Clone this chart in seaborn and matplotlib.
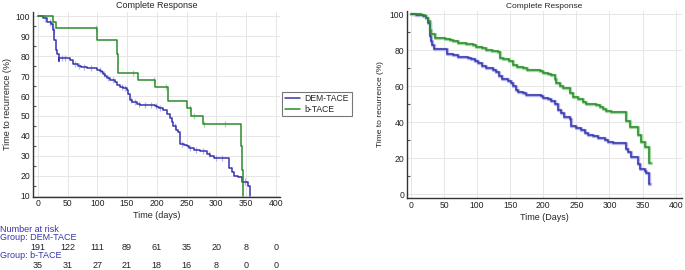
import numpy as np
import pandas as pd
import seaborn as sns
import matplotlib.pyplot as plt
from matplotlib.ticker import MultipleLocator
import matplotlib.transforms as mtransforms

# Left panel: Kaplan-Meier steps (time in days, survival % after the step)
dem_t = [0, 9, 15, 23, 26, 28, 30, 32, 35, 36, 54, 60, 68, 72, 82, 99, 105, 108, 110, 113,
         116, 122, 130, 133, 138, 144, 150, 152, 155, 158, 166, 172, 197, 200, 203, 211,
         217, 222, 225, 228, 233, 236, 239, 245, 250, 254, 262, 273, 284, 290, 296, 318,
         321, 326, 329, 337, 343, 351, 354, 356, 357]
dem_s = [100, 99, 97, 96, 93, 88, 83, 81, 77.5, 79, 78, 76, 75, 74.5, 74, 73, 72.5, 72, 71, 70,
         69, 68, 67, 65.5, 64.5, 64, 63, 61, 58, 57, 56, 55.5, 55, 54.5, 54, 53,
         51, 49, 47, 45, 43, 42, 36, 35.5, 35, 34, 33, 32.5, 31, 30, 29, 29,
         24, 22, 20, 19.5, 17, 17, 15, 12, 10]
bt_t = [0, 26, 30, 99, 133, 135.6, 169, 197, 219.6, 250, 257, 278, 341, 343.4, 344.5]
bt_s = [100, 97, 94, 88, 81, 71.5, 68, 64.5, 57.5, 54, 50, 46, 35, 23, 10]
dem_cens = [12, 20, 24, 27, 40, 46, 62, 70, 78, 90, 104, 112, 118, 126, 141, 147, 156, 163,
            170, 180, 190, 199, 206, 231, 242, 256, 266, 278, 288, 300, 310, 348]
bt_cens = [98, 160, 195, 215, 255, 262, 279, 315]

# Right panel curves
r_dem_t = [0, 8.5, 18, 23.6, 26, 28.7, 31, 32.5, 34.7, 54, 64, 71.4, 86.5, 91.6, 96.6, 101.6,
           107, 114, 124, 129, 133, 137, 147, 152, 154.5, 158.5, 162, 169.6, 174.6, 197, 200,
           207, 212, 217, 222, 227, 232, 240, 242.5, 250, 257.6, 262.6, 267.7, 275, 283, 293,
           298, 305, 323, 325.5, 328, 333, 343, 346.7, 353, 355.5, 359, 362]
r_dem_s = [100, 99.5, 99, 98, 95, 88, 85, 83, 80.5, 78, 77.5, 76, 75.5, 75, 74, 73,
           71.5, 70, 69, 68, 65.5, 64, 63, 62, 60, 58, 57, 56, 55, 54.5, 53.5,
           53, 52, 50, 47, 45, 43, 42, 38, 37, 36, 34, 33, 32.5, 31.5, 30,
           29, 28.5, 28.5, 25, 23.5, 21, 17, 14, 13, 12, 6, 6]
r_bt_t = [0, 8.5, 16, 21, 23.6, 26, 28.7, 31, 36, 51, 59, 64, 71.4, 84, 94, 99, 107, 114,
          122, 132, 134, 139, 149, 154, 160, 170, 175, 195, 200, 207, 212, 217, 220, 225,
          230, 240, 245, 252, 260, 265, 280, 285, 290, 295, 303, 323, 325.5, 330.5, 343,
          348, 354, 359, 363]
r_bt_s = [100, 100, 99.5, 99, 98, 96, 91, 89, 87, 86, 85.5, 85, 84, 83.5, 83, 82, 81, 80,
          79.5, 79, 75.5, 75, 74, 72, 70.5, 70, 69, 68.5, 67.5, 67, 66, 64, 62, 60,
          59, 56, 54, 53, 51, 50, 49.5, 48.5, 47.5, 46.5, 45.5, 45.5, 41, 37.5, 33,
          29, 26.5, 17.5, 17.5]

risk_times = [0, 50, 100, 150, 200, 250, 300, 350, 400]
risk_dem = [191, 122, 111, 89, 61, 35, 20, 8, 0]
risk_bt = [35, 31, 27, 21, 18, 16, 8, 0, 0]

groups = ["DEM-TACE", "b-TACE"]
colors = {"DEM-TACE": "#3535ad", "b-TACE": "#2b8a2b"}
light = {"DEM-TACE": "#b4b4ea", "b-TACE": "#a6d8a6"}


def step_at(times, surv, x):
    idx = np.searchsorted(times, x, side="right") - 1
    return np.asarray(surv)[idx]


left_df = pd.concat([
    pd.DataFrame({"t": dem_t, "s": dem_s, "group": "DEM-TACE"}),
    pd.DataFrame({"t": bt_t, "s": bt_s, "group": "b-TACE"}),
])
cens_df = pd.concat([
    pd.DataFrame({"t": dem_cens, "s": step_at(dem_t, dem_s, dem_cens), "group": "DEM-TACE"}),
    pd.DataFrame({"t": bt_cens, "s": step_at(bt_t, bt_s, bt_cens), "group": "b-TACE"}),
])
right_df = pd.concat([
    pd.DataFrame({"t": r_dem_t, "s": r_dem_s, "group": "DEM-TACE"}),
    pd.DataFrame({"t": r_bt_t, "s": r_bt_s, "group": "b-TACE"}),
])

sns.set_style("white")
plt.rcParams["font.family"] = ["Liberation Sans", "DejaVu Sans"]

fig = plt.figure(figsize=(6.85, 2.7), dpi=100)
ax1 = fig.add_axes([0.0482, 0.2715, 0.3606, 0.683])
ax2 = fig.add_axes([0.594, 0.2667, 0.402, 0.694])

# left panel
sns.scatterplot(data=cens_df, x="t", y="s", hue="group", palette=light, marker="|",
                s=22, linewidth=0.9, legend=False, ax=ax1, zorder=2)
sns.lineplot(data=left_df, x="t", y="s", hue="group", palette=colors, drawstyle="steps-post",
             linewidth=1.1, ax=ax1, sort=False, estimator=None, zorder=3)
ax1.set_xlim(-8, 407)
ax1.set_ylim(9.5, 102)
ax1.set_yticks(range(10, 101, 10))
ax1.yaxis.set_minor_locator(MultipleLocator(5))
ax1.set_xticks(range(0, 401, 50))
ax1.set_title("Complete Response", fontsize=6.5, pad=3)
ax1.set_xlabel("Time (days)", fontsize=6.5, labelpad=2)
ax1.set_ylabel("Time to recurrence (%)", fontsize=6.5, labelpad=3)
leg = ax1.legend(loc="upper left", bbox_to_anchor=(0.412, 0.66), bbox_transform=fig.transFigure,
                 fontsize=6.2, frameon=True, fancybox=False, edgecolor="#555555",
                 handlelength=1.8, handletextpad=0.5, borderpad=0.3, labelspacing=0.15,
                 borderaxespad=0)
leg.get_frame().set_linewidth(0.8)

# right panel with light halo
sns.lineplot(data=right_df, x="t", y="s", hue="group", palette=light, drawstyle="steps-post",
             linewidth=2.4, ax=ax2, sort=False, estimator=None, legend=False, zorder=2)
sns.lineplot(data=right_df, x="t", y="s", hue="group", palette=colors, drawstyle="steps-post",
             linewidth=1.1, ax=ax2, sort=False, estimator=None, legend=False, zorder=3)
ax2.set_xlim(-6, 410)
ax2.set_ylim(-2, 102)
ax2.set_yticks(range(0, 101, 20))
ax2.yaxis.set_minor_locator(MultipleLocator(10))
ax2.set_xticks(range(0, 401, 50))
ax2.set_title("Complete Response", fontsize=6, pad=2)
ax2.set_xlabel("Time (Days)", fontsize=6.5, labelpad=2)
ax2.set_ylabel("Time to recurrence (%)", fontsize=6, labelpad=4)

for ax in (ax1, ax2):
    ax.grid(True, color="#e6e6e6", linewidth=0.7)
    ax.set_axisbelow(True)
    for side in ("top", "right"):
        ax.spines[side].set_visible(False)
    for side in ("left", "bottom"):
        ax.spines[side].set_color("#333333")
        ax.spines[side].set_linewidth(1.0)
    ax.tick_params(axis="both", which="major", direction="in", length=3, width=1,
                   labelsize=6.2, pad=2, colors="#333333", labelcolor="#222222")
    ax.tick_params(axis="y", which="minor", direction="in", length=2, width=0.8,
                   colors="#555555", left=True)

# number at risk table
blue_txt = "#3535ad"
fig.text(0.0, 1 - 229 / 270, "Number at risk", fontsize=6.5, color=blue_txt, va="center")
fig.text(0.0, 1 - 238 / 270, "Group: DEM-TACE", fontsize=6.5, color=blue_txt, va="center")
fig.text(0.0, 1 - 256 / 270, "Group: b-TACE", fontsize=6.5, color=blue_txt, va="center")
trans = mtransforms.blended_transform_factory(ax1.transData, fig.transFigure)
for t, a, b in zip(risk_times, risk_dem, risk_bt):
    ax1.text(t, 1 - 247 / 270, str(a), transform=trans, ha="center", va="center",
             fontsize=6.5, color="#222222", clip_on=False)
    ax1.text(t, 1 - 265 / 270, str(b), transform=trans, ha="center", va="center",
             fontsize=6.5, color="#222222", clip_on=False)

fig.savefig("out.png", dpi=100)
